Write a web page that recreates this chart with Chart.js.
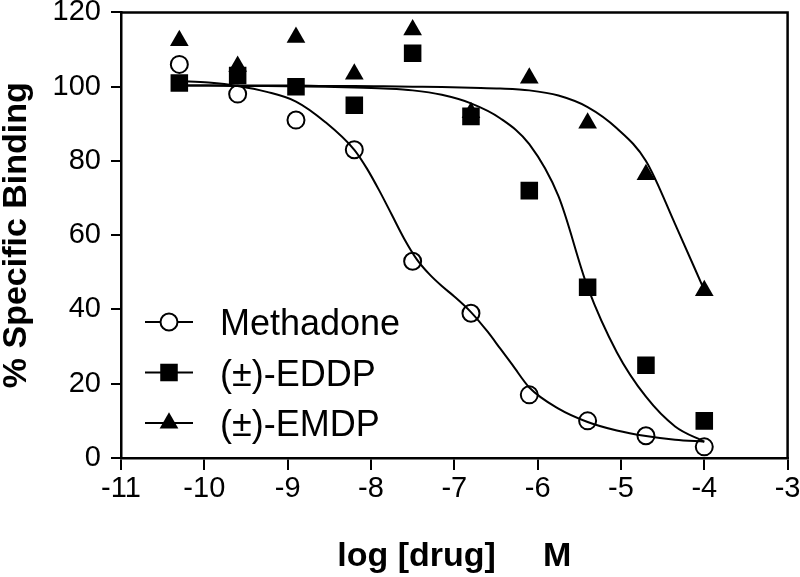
<!DOCTYPE html>
<html>
<head>
<meta charset="utf-8">
<script src="https://cdn.jsdelivr.net/npm/chart.js@4.4.1/dist/chart.umd.min.js"></script>
<style>
  html, body { margin: 0; padding: 0; background: #fff; }
  #wrap { width: 800px; height: 577px; }
</style>
</head>
<body>
<div id="wrap"><canvas id="binding-chart" width="800" height="577"></canvas></div>
<script>
// measured points
const logDose = [-10.3, -9.6, -8.9, -8.2, -7.5, -6.8, -6.1, -5.4, -4.7, -4.0];
const methadone = [106, 98, 91, 83, 53, 39, 17, 10, 6, 3];
const eddp = [101, 103, 100, 95, 109, 92, 72, 46, 25, 10];
const emdp = [112.4, 105.5, 113.3, 103.4, 115.3, 93, 102.3, 90.2, 76.3, 45.1];

// fitted curves
const methadoneFitDose = [-10.3, -9.95, -9.6, -9.25, -8.9, -8.55, -8.2, -8.05, -7.9, -7.75, -7.6, -7.45, -7.3, -7.15, -7.0, -6.8, -6.6, -6.45, -6.3, -6.1, -5.75, -5.4, -5.05, -4.7, -4.35, -4.0];
const methadoneFit = [101.5, 101.1, 100.2, 98.6, 96, 90.5, 83, 78, 72, 65.5, 59, 53.5, 49.5, 46.3, 43.5, 39.3, 34, 29.5, 25, 19, 13.3, 9.7, 7.4, 5.9, 4.9, 4.4];
const fitDose = [-10.3, -9.95, -9.6, -9.25, -8.9, -8.55, -8.2, -7.85, -7.5, -7.15, -6.8, -6.45, -6.1, -5.75, -5.4, -5.05, -4.7, -4.35, -4.0];
const eddpFit = [100.3, 100.3, 100.2, 100.2, 100.1, 100, 99.8, 99.5, 99, 97.8, 95.5, 91.5, 84.5, 70.5, 46, 28.5, 16.5, 8.5, 4.4];
const emdpFit = [100.3, 100.3, 100.3, 100.3, 100.3, 100.2, 100.2, 100.1, 100, 99.9, 99.7, 99.5, 99, 97.6, 94.5, 88.8, 80, 63, 45.2];

const seriesNames = ["Methadone", "(\u00b1)-EDDP", "(\u00b1)-EMDP"];
const xTicks = [-11, -10, -9, -8, -7, -6, -5, -4, -3];
const yTicks = [0, 20, 40, 60, 80, 100, 120];

const FONT = "'Liberation Sans', Arial, Helvetica, sans-serif";
const pts = (xs, ys) => xs.map((x, i) => ({ x, y: ys[i] }));

const markers = [
  { pointStyle: "circle", radius: 8.5, fill: "rgba(0,0,0,0)", legendFill: "#fff", borderWidth: 2 },
  { pointStyle: "rect", radius: 12.4, fill: "#000", legendFill: "#000", borderWidth: 0 },
  { pointStyle: "triangle", radius: 10.8, fill: "#000", legendFill: "#000", borderWidth: 0 }
];

const fitSet = (xs, ys) => ({
  type: "line",
  data: pts(xs, ys),
  borderColor: "#000",
  borderWidth: 2,
  pointRadius: 0,
  fill: false,
  cubicInterpolationMode: "monotone",
  isFit: true
});

const pointSet = (label, ys, m) => ({
  type: "scatter",
  label,
  data: pts(logDose, ys),
  showLine: false,
  pointStyle: m.pointStyle,
  pointRadius: m.radius,
  backgroundColor: m.fill,
  borderColor: "#000",
  borderWidth: m.borderWidth,
  legendFill: m.legendFill
});

// box on top + right, legend drawn inside plot area
const framePlugin = {
  id: "frame",
  afterDraw(chart) {
    const { ctx, chartArea: a } = chart;
    ctx.save();
    ctx.strokeStyle = "#000";
    ctx.lineWidth = 2.5;
    ctx.beginPath();
    ctx.moveTo(a.left, a.top);
    ctx.lineTo(a.right, a.top);
    ctx.lineTo(a.right, a.bottom);
    ctx.stroke();
    ctx.restore();
  }
};

const legendPlugin = {
  id: "insideLegend",
  afterDraw(chart) {
    const { ctx } = chart;
    const sets = chart.data.datasets.filter((d) => !d.isFit);
    ctx.save();
    sets.forEach((ds, i) => {
      const y = 322 + i * 50.5;
      ctx.strokeStyle = "#000";
      ctx.lineWidth = 2;
      ctx.beginPath();
      ctx.moveTo(145, y);
      ctx.lineTo(193, y);
      ctx.stroke();
      ctx.fillStyle = ds.legendFill;
      ctx.strokeStyle = "#000";
      ctx.lineWidth = ds.borderWidth;
      Chart.helpers.drawPoint(ctx, {
        pointStyle: ds.pointStyle,
        radius: ds.pointRadius,
        borderWidth: ds.borderWidth,
        rotation: 0
      }, 169, y);
      ctx.fillStyle = "#000";
      ctx.font = "36px " + FONT;
      ctx.textAlign = "left";
      ctx.textBaseline = "alphabetic";
      ctx.fillText(ds.label, 220, y + 13);
    });
    ctx.restore();
  }
};

const noPad = (scale) => {
  scale.paddingTop = 0;
  scale.paddingBottom = 0;
  scale.paddingLeft = 0;
  scale.paddingRight = 0;
};

new Chart(document.getElementById("binding-chart"), {
  data: {
    datasets: [
      fitSet(methadoneFitDose, methadoneFit),
      fitSet(fitDose, eddpFit),
      fitSet(fitDose, emdpFit),
      pointSet(seriesNames[0], methadone, markers[0]),
      pointSet(seriesNames[1], eddp, markers[1]),
      pointSet(seriesNames[2], emdp, markers[2])
    ]
  },
  options: {
    responsive: false,
    animation: false,
    devicePixelRatio: 1,
    events: [],
    layout: { padding: { top: 12, right: 12, left: 0, bottom: 0 } },
    plugins: {
      legend: { display: false },
      tooltip: { enabled: false }
    },
    scales: {
      x: {
        type: "linear",
        min: -11,
        max: -3,
        afterBuildTicks(scale) { scale.ticks = xTicks.map((v) => ({ value: v })); },
        afterFit(scale) { scale.height = 119; noPad(scale); },
        grid: { drawOnChartArea: false, drawTicks: true, tickLength: 12, color: "#000", lineWidth: 2 },
        border: { display: true, color: "#000", width: 2.5 },
        ticks: {
          color: "#000",
          padding: 2,
          font: { family: FONT, size: 29 },
          callback: (v) => String(v)
        },
        title: {
          display: true,
          text: "log [drug]     M",
          color: "#000",
          font: { family: FONT, size: 34, weight: "bold", lineHeight: 1 },
          padding: { top: 0, bottom: 3 }
        }
      },
      y: {
        type: "linear",
        min: 0,
        max: 120,
        afterBuildTicks(scale) { scale.ticks = yTicks.map((v) => ({ value: v })); },
        afterFit(scale) { scale.width = 121; noPad(scale); },
        grid: { drawOnChartArea: false, drawTicks: true, tickLength: 10, color: "#000", lineWidth: 2 },
        border: { display: true, color: "#000", width: 2.5 },
        ticks: {
          color: "#000",
          padding: 10,
          font: { family: FONT, size: 29 },
          callback: (v) => String(v)
        },
        title: {
          display: true,
          text: "% Specific Binding",
          color: "#000",
          font: { family: FONT, size: 34, weight: "bold", lineHeight: 1 },
          padding: { top: 0, bottom: 0 }
        }
      }
    }
  },
  plugins: [framePlugin, legendPlugin]
});
</script>
</body>
</html>
